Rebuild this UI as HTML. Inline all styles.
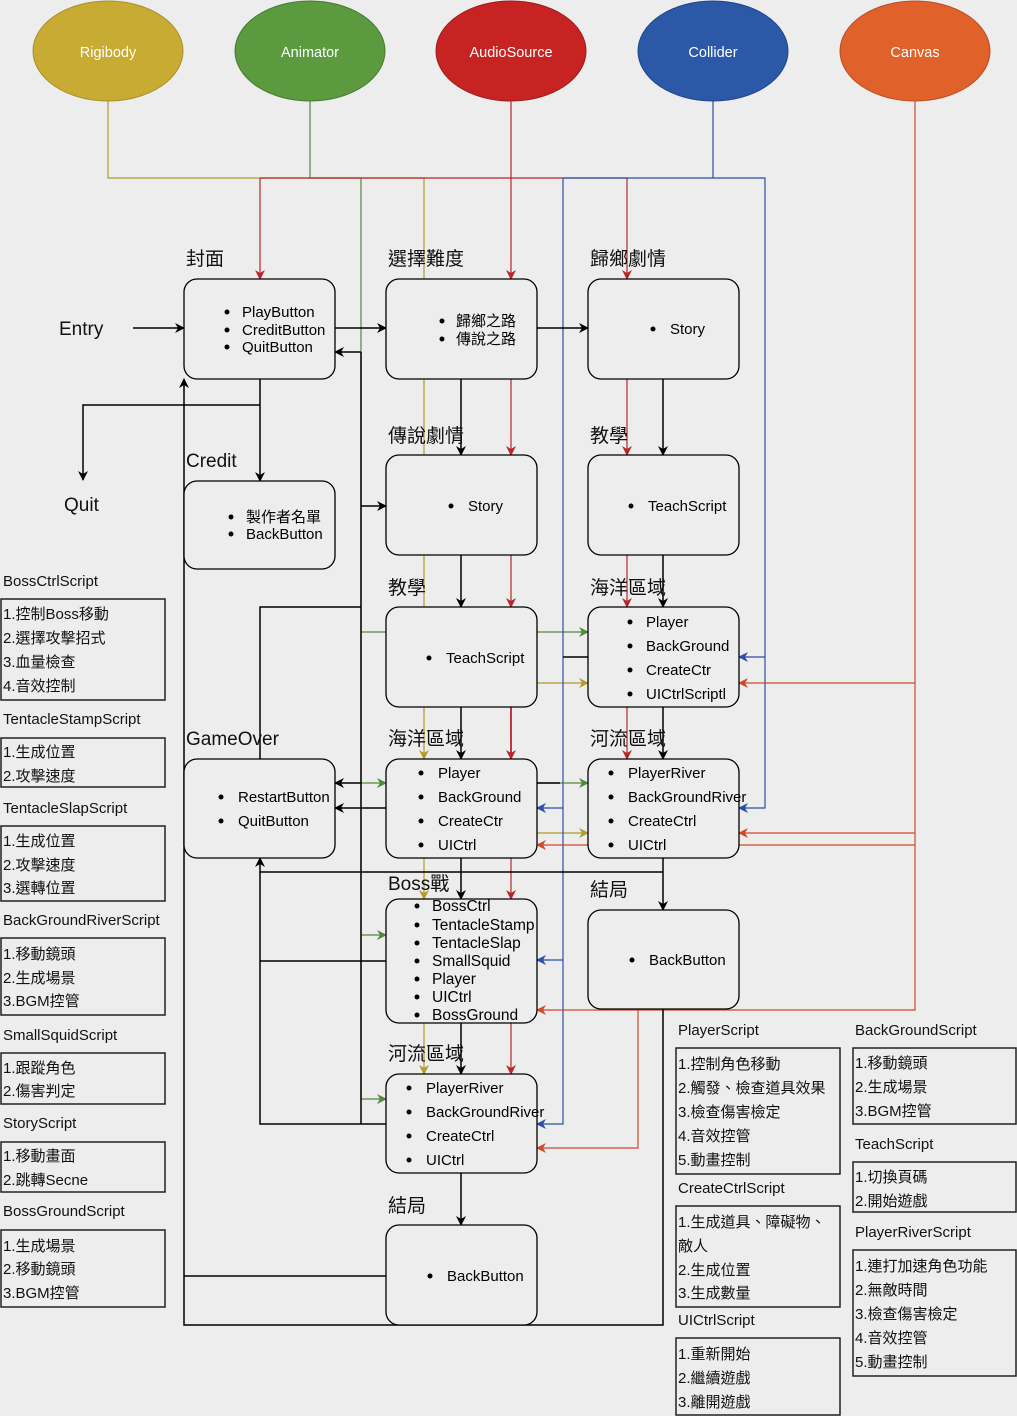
<!DOCTYPE html>
<html><head><meta charset="utf-8"><style>
html,body{margin:0;padding:0;background:#ededed;}
svg{display:block;font-family:"Liberation Sans","Noto Sans CJK TC",sans-serif;}
</style></head><body>
<svg width="1017" height="1416" viewBox="0 0 1017 1416" xmlns="http://www.w3.org/2000/svg">
<defs>
<marker id="ak" markerWidth="10" markerHeight="10" refX="9" refY="5" orient="auto" markerUnits="userSpaceOnUse"><path d="M0,0 L10,5 L0,10 L3,5z" fill="#000"/></marker>
<marker id="ar" markerWidth="10" markerHeight="10" refX="9" refY="5" orient="auto" markerUnits="userSpaceOnUse"><path d="M0,0 L10,5 L0,10 L3,5z" fill="#b8262b"/></marker>
<marker id="ao" markerWidth="10" markerHeight="10" refX="9" refY="5" orient="auto" markerUnits="userSpaceOnUse"><path d="M0,0 L10,5 L0,10 L3,5z" fill="#d04a2a"/></marker>
<marker id="ay" markerWidth="10" markerHeight="10" refX="9" refY="5" orient="auto" markerUnits="userSpaceOnUse"><path d="M0,0 L10,5 L0,10 L3,5z" fill="#b39a2a"/></marker>
<marker id="ag" markerWidth="10" markerHeight="10" refX="9" refY="5" orient="auto" markerUnits="userSpaceOnUse"><path d="M0,0 L10,5 L0,10 L3,5z" fill="#4f8a3a"/></marker>
<marker id="ab" markerWidth="10" markerHeight="10" refX="9" refY="5" orient="auto" markerUnits="userSpaceOnUse"><path d="M0,0 L10,5 L0,10 L3,5z" fill="#2a4fa8"/></marker>
</defs>

<g stroke-width="1">
<ellipse cx="108" cy="51" rx="75" ry="50" fill="#c8ab32" stroke="#a8902a"/>
<ellipse cx="310" cy="51" rx="75" ry="50" fill="#5b9a3e" stroke="#467a30"/>
<ellipse cx="511" cy="51" rx="75" ry="50" fill="#c82323" stroke="#a01a1a"/>
<ellipse cx="713" cy="51" rx="75" ry="50" fill="#2b59a8" stroke="#1f4588"/>
<ellipse cx="915" cy="51" rx="75" ry="50" fill="#e0622a" stroke="#b84e20"/>
</g>
<g fill="#fff" font-size="14.5" text-anchor="middle">
<text x="108" y="57">Rigibody</text><text x="310" y="57">Animator</text><text x="511" y="57">AudioSource</text><text x="713" y="57">Collider</text><text x="915" y="57">Canvas</text>
</g>

<g fill="none" stroke-width="1.2">
<path d="M108,101 V178 H424 V279" stroke="#b39a2a"/>
<path d="M424,379 V455" stroke="#b39a2a"/>
<path d="M424,555 V607" stroke="#b39a2a"/>
<path d="M424,707 V759" stroke="#b39a2a" marker-end="url(#ay)"/>
<path d="M424,858 V899" stroke="#b39a2a" marker-end="url(#ay)"/>
<path d="M424,1023 V1074" stroke="#b39a2a" marker-end="url(#ay)"/>
<path d="M537,683 H588" stroke="#b39a2a" marker-end="url(#ay)"/>
<path d="M537,833 H588" stroke="#b39a2a" marker-end="url(#ay)"/>
<path d="M310,101 V178 H361 V1099 H386" stroke="#4f8a3a" marker-end="url(#ag)"/>
<path d="M361,632 H386 M537,632 H588" stroke="#4f8a3a" marker-end="url(#ag)"/>
<path d="M361,935 H386" stroke="#4f8a3a" marker-end="url(#ag)"/>
<path d="M361,783 H386" stroke="#4f8a3a" marker-end="url(#ag)"/>
<path d="M537,783 H588" stroke="#4f8a3a" marker-end="url(#ag)"/>
<path d="M260,178 H627" stroke="#b8262b"/>
<path d="M260,178 V279" stroke="#b8262b" marker-end="url(#ar)"/>
<path d="M627,178 V279" stroke="#b8262b" marker-end="url(#ar)"/>
<path d="M511,101 V279" stroke="#b8262b" marker-end="url(#ar)"/>
<path d="M511,379 V455" stroke="#b8262b" marker-end="url(#ar)"/>
<path d="M511,555 V607" stroke="#b8262b" marker-end="url(#ar)"/>
<path d="M511,707 V759" stroke="#b8262b" stroke-width="1.8" marker-end="url(#ar)"/>
<path d="M511,858 V899" stroke="#b8262b" marker-end="url(#ar)"/>
<path d="M511,1023 V1074" stroke="#b8262b" marker-end="url(#ar)"/>
<path d="M627,379 V455" stroke="#b8262b" marker-end="url(#ar)"/>
<path d="M627,555 V607" stroke="#b8262b" marker-end="url(#ar)"/>
<path d="M627,707 V759" stroke="#b8262b" marker-end="url(#ar)"/>
<path d="M713,101 V178 M563,178 H765 V808 H739" stroke="#2a4fa8" marker-end="url(#ab)"/>
<path d="M563,178 V1124 H537" stroke="#2a4fa8" marker-end="url(#ab)"/>
<path d="M765,657 H739" stroke="#2a4fa8" marker-end="url(#ab)"/>
<path d="M563,808 H537" stroke="#2a4fa8" marker-end="url(#ab)"/>
<path d="M563,960 H537" stroke="#2a4fa8" marker-end="url(#ab)"/>
<path d="M915,101 V1010 H537" stroke="#d04a2a" marker-end="url(#ao)"/>
<path d="M915,683 H739" stroke="#d04a2a" marker-end="url(#ao)"/>
<path d="M915,833 H739" stroke="#d04a2a" marker-end="url(#ao)"/>
<path d="M915,845 H739" stroke="#d04a2a"/>
<path d="M588,845 H537" stroke="#d04a2a" marker-end="url(#ao)"/>
<path d="M638,1009 V1148 H537" stroke="#d04a2a" marker-end="url(#ao)"/>
</g>

<g fill="none" stroke="#000" stroke-width="1.5">
<path d="M133,328 H184" marker-end="url(#ak)"/>
<path d="M335,328 H386" marker-end="url(#ak)"/>
<path d="M537,328 H588" marker-end="url(#ak)"/>
<path d="M361,352 H335" marker-end="url(#ak)"/>
<path d="M361,352 V1124"/>
<path d="M361,506 H386" marker-end="url(#ak)"/>
<path d="M361,607 H260 V759"/>
<path d="M260,379 V481" marker-end="url(#ak)"/>
<path d="M260,405 H83 V480" marker-end="url(#ak)"/>
<path d="M663,1009 V1325 H184 V379" marker-end="url(#ak)"/>
<path d="M386,1276 H184"/>
<path d="M663,379 V455" marker-end="url(#ak)"/>
<path d="M461,379 V455" marker-end="url(#ak)"/>
<path d="M461,555 V607" marker-end="url(#ak)"/>
<path d="M461,707 V759" marker-end="url(#ak)"/>
<path d="M461,858 V899" marker-end="url(#ak)"/>
<path d="M461,1023 V1074" marker-end="url(#ak)"/>
<path d="M461,1173 V1225" marker-end="url(#ak)"/>
<path d="M663,555 V607" marker-end="url(#ak)"/>
<path d="M663,707 V759" marker-end="url(#ak)"/>
<path d="M663,858 V910" marker-end="url(#ak)"/>
<path d="M663,872 H260 V858" marker-end="url(#ak)"/>
<path d="M260,872 V1124 H386"/>
<path d="M260,961 H386"/>
<path d="M361,783 H335" marker-end="url(#ak)"/>
<path d="M386,808 H335" marker-end="url(#ak)"/>
<path d="M537,783 H560"/>
<path d="M563,657 H588"/>
</g>

<g fill="#ededed" stroke="#000" stroke-width="1.3">
<rect x="184" y="279" width="151" height="100" rx="13"/>
<rect x="386" y="279" width="151" height="100" rx="13"/>
<rect x="588" y="279" width="151" height="100" rx="13"/>
<rect x="184" y="481" width="151" height="88" rx="13"/>
<rect x="386" y="455" width="151" height="100" rx="13"/>
<rect x="588" y="455" width="151" height="100" rx="13"/>
<rect x="386" y="607" width="151" height="100" rx="13"/>
<rect x="588" y="607" width="151" height="100" rx="13"/>
<rect x="184" y="759" width="151" height="99" rx="13"/>
<rect x="386" y="759" width="151" height="99" rx="13"/>
<rect x="588" y="759" width="151" height="99" rx="13"/>
<rect x="386" y="899" width="151" height="124" rx="13"/>
<rect x="588" y="910" width="151" height="99" rx="13"/>
<rect x="386" y="1074" width="151" height="99" rx="13"/>
<rect x="386" y="1225" width="151" height="100" rx="13"/>
</g>

<g font-size="19" fill="#111">
<text x="186" y="265">封面</text><text x="388" y="265">選擇難度</text><text x="590" y="265">歸鄉劇情</text>
<text x="388" y="442">傳說劇情</text><text x="590" y="442">教學</text>
<text x="388" y="594">教學</text><text x="590" y="594">海洋區域</text>
<text x="388" y="745">海洋區域</text><text x="590" y="745">河流區域</text>
<text x="388" y="890">Boss戰</text><text x="590" y="896">結局</text>
<text x="388" y="1060">河流區域</text><text x="388" y="1212">結局</text>
<text x="186" y="745">GameOver</text><text x="186" y="467">Credit</text>
<text x="59" y="335">Entry</text><text x="64" y="511">Quit</text>
</g>

<g font-size="15" fill="#000">
<g><circle cx="227" cy="312" r="2.5"/><text x="242" y="317">PlayButton</text>
<circle cx="227" cy="330" r="2.5"/><text x="242" y="335">CreditButton</text>
<circle cx="227" cy="347" r="2.5"/><text x="242" y="352">QuitButton</text></g>
<g><circle cx="442" cy="321" r="2.5"/><text x="456" y="326">歸鄉之路</text>
<circle cx="442" cy="339" r="2.5"/><text x="456" y="344">傳說之路</text></g>
<circle cx="653" cy="329" r="2.5"/><text x="670" y="334">Story</text>
<circle cx="231" cy="517" r="2.5"/><text x="246" y="522">製作者名單</text>
<circle cx="231" cy="534" r="2.5"/><text x="246" y="539">BackButton</text>
<circle cx="451" cy="506" r="2.5"/><text x="468" y="511">Story</text>
<circle cx="631" cy="506" r="2.5"/><text x="648" y="511">TeachScript</text>
<circle cx="429" cy="658" r="2.5"/><text x="446" y="663">TeachScript</text>
<circle cx="630" cy="622" r="2.5"/><text x="646" y="627">Player</text>
<circle cx="630" cy="646" r="2.5"/><text x="646" y="651">BackGround</text>
<circle cx="630" cy="670" r="2.5"/><text x="646" y="675">CreateCtr</text>
<circle cx="630" cy="694" r="2.5"/><text x="646" y="699">UICtrlScriptl</text>
<circle cx="221" cy="797" r="2.5"/><text x="238" y="802">RestartButton</text>
<circle cx="221" cy="821" r="2.5"/><text x="238" y="826">QuitButton</text>
<circle cx="421" cy="773" r="2.5"/><text x="438" y="778">Player</text>
<circle cx="421" cy="797" r="2.5"/><text x="438" y="802">BackGround</text>
<circle cx="421" cy="821" r="2.5"/><text x="438" y="826">CreateCtr</text>
<circle cx="421" cy="845" r="2.5"/><text x="438" y="850">UICtrl</text>
<circle cx="611" cy="773" r="2.5"/><text x="628" y="778">PlayerRiver</text>
<circle cx="611" cy="797" r="2.5"/><text x="628" y="802">BackGroundRiver</text>
<circle cx="611" cy="821" r="2.5"/><text x="628" y="826">CreateCtrl</text>
<circle cx="611" cy="845" r="2.5"/><text x="628" y="850">UICtrl</text>
<circle cx="632" cy="960" r="2.5"/><text x="649" y="965">BackButton</text>
<circle cx="409" cy="1088" r="2.5"/><text x="426" y="1093">PlayerRiver</text>
<circle cx="409" cy="1112" r="2.5"/><text x="426" y="1117">BackGroundRiver</text>
<circle cx="409" cy="1136" r="2.5"/><text x="426" y="1141">CreateCtrl</text>
<circle cx="409" cy="1160" r="2.5"/><text x="426" y="1165">UICtrl</text>
<circle cx="430" cy="1276" r="2.5"/><text x="447" y="1281">BackButton</text>
<g font-size="15.5">
<circle cx="417" cy="906" r="2.5"/><text x="432" y="911">BossCtrl</text>
<circle cx="417" cy="925" r="2.5"/><text x="432" y="930">TentacleStamp</text>
<circle cx="417" cy="943" r="2.5"/><text x="432" y="948">TentacleSlap</text>
<circle cx="417" cy="961" r="2.5"/><text x="432" y="966">SmallSquid</text>
<circle cx="417" cy="979" r="2.5"/><text x="432" y="984">Player</text>
<circle cx="417" cy="997" r="2.5"/><text x="432" y="1002">UICtrl</text>
<circle cx="417" cy="1015" r="2.5"/><text x="432" y="1020">BossGround</text>
</g>
</g>

<g fill="none" stroke="#222" stroke-width="1.5">
<rect x="1" y="599" width="164" height="101"/>
<rect x="1" y="738" width="164" height="49"/>
<rect x="1" y="826" width="164" height="75"/>
<rect x="1" y="938" width="164" height="77"/>
<rect x="1" y="1053" width="164" height="51"/>
<rect x="1" y="1142" width="164" height="50"/>
<rect x="1" y="1230" width="164" height="77"/>
<rect x="676" y="1048" width="164" height="126"/>
<rect x="676" y="1206" width="164" height="101"/>
<rect x="676" y="1338" width="164" height="77"/>
<rect x="853" y="1048" width="163" height="76"/>
<rect x="853" y="1162" width="163" height="50"/>
<rect x="853" y="1250" width="163" height="126"/>
</g>
<g font-size="15" fill="#111">
<text x="3" y="586">BossCtrlScript</text>
<text x="3" y="619">1.控制Boss移動</text><text x="3" y="643">2.選擇攻擊招式</text><text x="3" y="667">3.血量檢查</text><text x="3" y="691">4.音效控制</text>
<text x="3" y="724">TentacleStampScript</text>
<text x="3" y="757">1.生成位置</text><text x="3" y="781">2.攻擊速度</text>
<text x="3" y="813">TentacleSlapScript</text>
<text x="3" y="846">1.生成位置</text><text x="3" y="870">2.攻擊速度</text><text x="3" y="893">3.選轉位置</text>
<text x="3" y="925">BackGroundRiverScript</text>
<text x="3" y="959">1.移動鏡頭</text><text x="3" y="983">2.生成場景</text><text x="3" y="1006">3.BGM控管</text>
<text x="3" y="1040">SmallSquidScript</text>
<text x="3" y="1073">1.跟蹤角色</text><text x="3" y="1096">2.傷害判定</text>
<text x="3" y="1128">StoryScript</text>
<text x="3" y="1161">1.移動畫面</text><text x="3" y="1185">2.跳轉Secne</text>
<text x="3" y="1216">BossGroundScript</text>
<text x="3" y="1251">1.生成場景</text><text x="3" y="1274">2.移動鏡頭</text><text x="3" y="1298">3.BGM控管</text>

<text x="678" y="1035">PlayerScript</text>
<text x="678" y="1069">1.控制角色移動</text><text x="678" y="1093">2.觸發、檢查道具效果</text><text x="678" y="1117">3.檢查傷害檢定</text><text x="678" y="1141">4.音效控管</text><text x="678" y="1165">5.動畫控制</text>
<text x="678" y="1193">CreateCtrlScript</text>
<text x="678" y="1227">1.生成道具、障礙物、</text><text x="678" y="1251">敵人</text><text x="678" y="1275">2.生成位置</text><text x="678" y="1298">3.生成數量</text>
<text x="678" y="1325">UICtrlScript</text>
<text x="678" y="1359">1.重新開始</text><text x="678" y="1383">2.繼續遊戲</text><text x="678" y="1407">3.離開遊戲</text>

<text x="855" y="1035">BackGroundScript</text>
<text x="855" y="1068">1.移動鏡頭</text><text x="855" y="1092">2.生成場景</text><text x="855" y="1116">3.BGM控管</text>
<text x="855" y="1149">TeachScript</text>
<text x="855" y="1182">1.切換頁碼</text><text x="855" y="1206">2.開始遊戲</text>
<text x="855" y="1237">PlayerRiverScript</text>
<text x="855" y="1271">1.連打加速角色功能</text><text x="855" y="1295">2.無敵時間</text><text x="855" y="1319">3.檢查傷害檢定</text><text x="855" y="1343">4.音效控管</text><text x="855" y="1367">5.動畫控制</text>
</g>
</svg>
</body></html>
